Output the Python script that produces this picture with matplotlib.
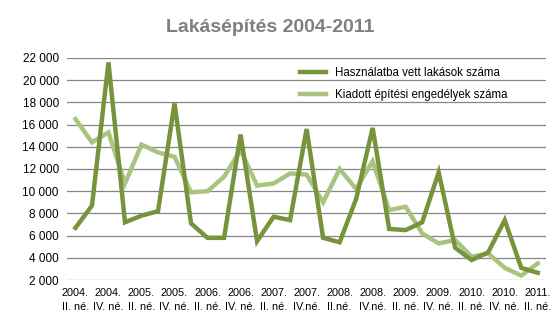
import matplotlib.pyplot as plt

plt.rcParams['font.family'] = ['Liberation Sans', 'DejaVu Sans']

# quarters 2004 II .. 2011 II
years = ['2004', '2004', '2005', '2005', '2006', '2006', '2007', '2007',
         '2008', '2008', '2009', '2009', '2010', '2010', '2011']
quarters = ['II. né.', 'IV. né.', 'II. né.', 'IV. né.', 'II. né.', 'IV. né.',
            'II. né.', 'IV.né.', 'II.né.', 'IV.né.', 'II. né.', 'IV. né.',
            'II. né.', 'IV. né.', 'II. né.']

completed = [6700, 8700, 21600, 7200, 7800, 8200, 17900, 7100, 5800, 5800,
             15100, 5500, 7700, 7400, 15600, 5800, 5400, 9300, 15700, 6600,
             6500, 7200, 11700, 4900, 3800, 4500, 7400, 3100, 2650]
permits = [16500, 14400, 15300, 10700, 14200, 13500, 13100, 9900, 10000, 11300,
           13700, 10500, 10700, 11600, 11500, 9000, 12000, 10200, 12700, 8300,
           8600, 6200, 5300, 5600, 4100, 4400, 3100, 2400, 3500]

fig = plt.figure(figsize=(5.6, 3.33), dpi=100)
ax = fig.add_axes([0.12, 0.159, 0.855, 0.667])

x = list(range(len(completed)))
ax.plot(x, completed, color='#77933C', linewidth=3.2, label='Használatba vett lakások száma',
        solid_joinstyle='miter', zorder=3)
ax.plot(x, permits, color='#A9C47F', linewidth=3.2, label='Kiadott építési engedélyek száma',
        solid_joinstyle='miter', zorder=2)

ax.set_xlim(-0.5, len(x) - 0.5)
ax.set_ylim(2000, 22000)
ax.set_yticks(range(2000, 22001, 2000))
ax.set_yticklabels([f'{v:,}'.replace(',', ' ') for v in range(2000, 22001, 2000)], fontsize=8.5)
ax.set_xticks(x[::2])
ax.set_xticklabels([f'{y}.\n{q}' for y, q in zip(years, quarters)], fontsize=7.8,
                   linespacing=1.45)
ax.tick_params(length=0, pad=6)
ax.grid(axis='y', color='#868686', linewidth=0.9)
ax.set_axisbelow(True)
for s in ax.spines.values():
    s.set_visible(False)

ax.legend(loc='upper left', bbox_to_anchor=(0.465, 1.005), frameon=False, fontsize=8.3,
          handlelength=2.2, labelspacing=0.85)

fig.text(0.483, 0.916, 'Lakásépítés 2004-2011', ha='center', va='center', fontsize=14,
         fontweight='bold', color='#7F7F7F')

plt.savefig('out.png', dpi=100)
